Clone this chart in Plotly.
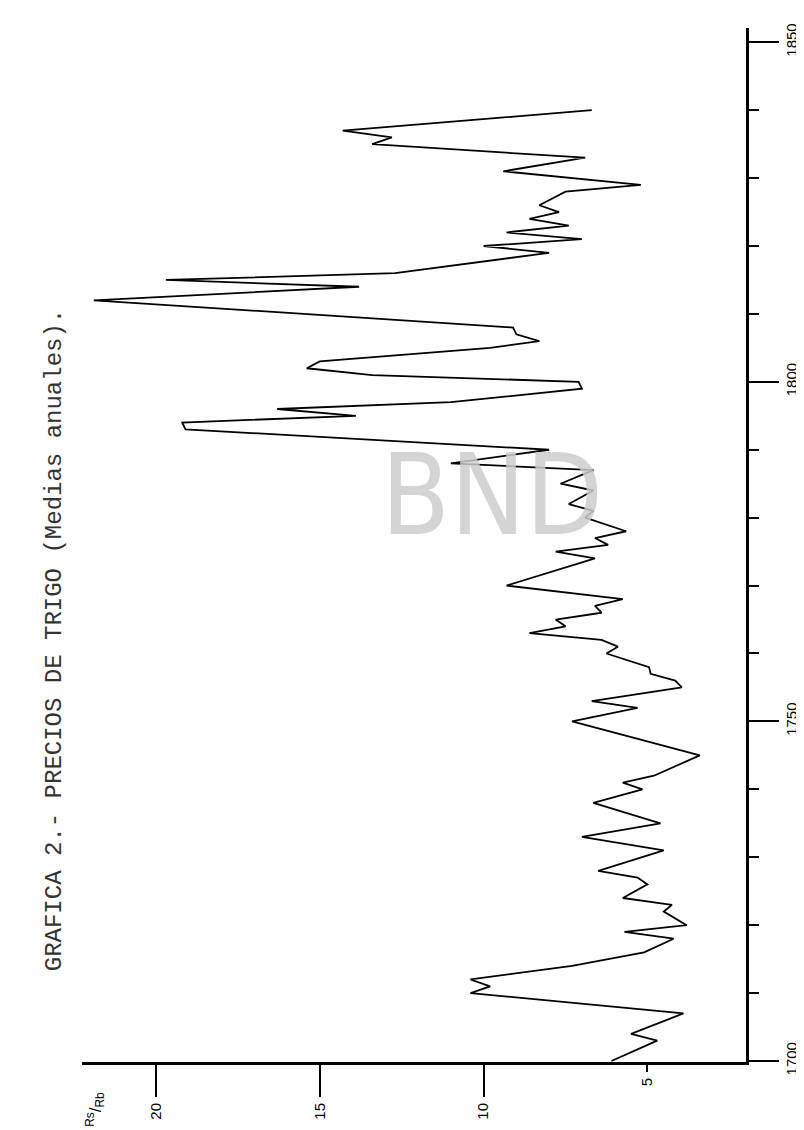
import plotly.graph_objects as go

# Annual wheat prices (Rs/Rb)
years = [1700, 1703, 1704, 1707, 1710, 1711, 1712, 1714, 1716, 1718, 1719, 1720,
         1722, 1723, 1724, 1726, 1727, 1728, 1731, 1733, 1735, 1738, 1740, 1741,
         1742, 1745, 1750, 1752, 1753, 1755, 1756, 1757, 1758, 1760, 1761, 1762,
         1763, 1764, 1765, 1766, 1767, 1768, 1770, 1774, 1775, 1776, 1777, 1778,
         1780, 1781, 1782, 1784, 1785, 1787, 1788, 1790, 1793, 1794, 1795, 1796,
         1797, 1799, 1800, 1801, 1802, 1803, 1805, 1806, 1807, 1808, 1812, 1814,
         1815, 1816, 1819, 1820, 1821, 1822, 1823, 1824, 1825, 1826, 1828, 1829,
         1831, 1833, 1835, 1836, 1837, 1840]
prices = [6.1, 4.7, 5.5, 3.9, 10.4, 9.8, 10.4, 7.3, 5.1, 4.2, 5.7, 3.8,
          4.5, 4.25, 5.75, 5.0, 5.3, 6.5, 4.5, 7.0, 4.6, 6.65, 5.15, 5.75,
          4.8, 3.4, 7.3, 5.3, 6.7, 3.95, 4.15, 4.9, 4.95, 6.25, 5.9, 6.4,
          8.6, 7.5, 7.8, 6.4, 6.6, 5.75, 9.3, 6.6, 7.8, 6.2, 6.6, 5.65,
          6.9, 6.65, 7.4, 6.65, 7.65, 6.65, 11.0, 8.0, 19.1, 19.2, 13.9, 16.3,
          11.0, 7.0, 7.1, 13.4, 15.4, 15.0, 9.8, 8.3, 9.0, 9.1, 21.9, 13.8,
          19.7, 12.7, 8.0, 10.0, 7.0, 9.3, 7.4, 8.6, 7.7, 8.3, 7.5, 5.2,
          9.4, 6.9, 13.4, 12.8, 14.3, 6.7]

long_ticks = [10, 15, 20]
short_ticks = [5]
title_text = "GRAFICA 2.- PRECIOS DE TRIGO (Medias anuales)."

fig = go.Figure()
fig.add_trace(go.Scatter(x=prices, y=years, mode="lines",
                         line=dict(color="black", width=1.8),
                         hoverinfo="skip", showlegend=False))
# empty trace so the second (short-tick) value axis is drawn
fig.add_trace(go.Scatter(x=[], y=[], xaxis="x2", yaxis="y", showlegend=False))

tickfont = dict(family="Liberation Sans, Arial, sans-serif", size=15, color="black")
xrange = [22.26, 1.99]

fig.update_layout(
    width=804, height=1130,
    paper_bgcolor="white", plot_bgcolor="white",
    margin=dict(l=74, r=57, t=20, b=76),
    showlegend=False,
    xaxis=dict(range=xrange, showline=True, linecolor="black", linewidth=3,
               ticks="outside", tickvals=long_ticks, ticklen=32, tickwidth=2,
               tickcolor="black", tickangle=-90, tickfont=tickfont,
               showgrid=False, zeroline=False),
    xaxis2=dict(range=xrange, overlaying="x", anchor="y", side="bottom",
                showline=False, ticks="outside", tickvals=short_ticks, ticklen=9,
                tickwidth=2, tickcolor="black", tickangle=-90, tickfont=tickfont,
                showgrid=False, zeroline=False),
    yaxis=dict(range=[1699.85, 1852.1], side="right", showline=True, linecolor="black",
               linewidth=2.5, ticks="outside", tick0=1700, dtick=50, ticklen=30,
               tickwidth=1.5, tickcolor="black", tickangle=-90, tickfont=tickfont,
               showgrid=False, zeroline=False,
               minor=dict(tick0=1700, dtick=10, ticklen=10, tickwidth=1.5,
                          ticks="outside", tickcolor="black", showgrid=False)),
)

fig.add_annotation(text="BND", xref="paper", yref="paper", x=0.618, y=0.548,
                   xanchor="center", yanchor="middle", showarrow=False,
                   font=dict(family="Liberation Sans Narrow, DejaVu Sans Condensed, Arial Narrow, sans-serif",
                             size=112, color="rgba(205,205,205,0.85)"))
fig.add_annotation(text=title_text, xref="paper", yref="paper",
                   x=-0.042, y=0.408, xanchor="center", yanchor="middle",
                   textangle=-90, showarrow=False,
                   font=dict(family="Liberation Mono, Courier New, monospace", size=24,
                             color="#333333"))
fig.add_annotation(text="<sup>Rs</sup>/<sub>Rb</sub>", xref="paper", yref="paper",
                   x=0.02, y=-0.046, xanchor="center", yanchor="middle",
                   textangle=-90, showarrow=False,
                   font=dict(family="Liberation Sans, Arial", size=17, color="black"))

fig.write_html("out.html")
